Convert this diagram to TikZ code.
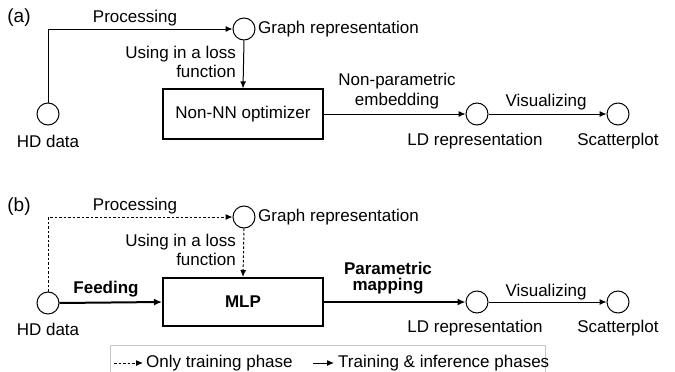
\documentclass[tikz,border=0pt]{standalone}
\usepackage{fontspec}
\setmainfont{Liberation Sans}
\usetikzlibrary{arrows.meta}
\begin{document}
\begin{tikzpicture}[x=1pt,y=-1pt,
  every node/.style={font=\fontsize{17}{19.5}\selectfont, inner sep=0pt},
  panel/.style={font=\fontsize{19}{21}\selectfont},
  circ/.style={draw, circle, minimum size=22pt, line width=1pt},
  boxa/.style={draw, line width=1.2pt, minimum width=160pt, minimum height=50pt},
  boxb/.style={draw, line width=2pt, minimum width=160pt, minimum height=48pt, font=\fontsize{17}{19.5}\selectfont\bfseries},
  arr/.style={line width=1pt, -{Latex[length=7pt,width=6pt]}},
  tarr/.style={line width=2pt, -{Latex[length=8pt,width=7pt]}},
  darr/.style={line width=1pt, dash pattern=on 2.5pt off 2pt, -{Latex[length=7pt,width=6pt]}},
  lbl/.style={align=center}
]
\useasboundingbox (0,0) rectangle (675,372);

% ---------- (a)
\node[panel] (la) at (19,18) {(a)};
\node[circ] (hda) at (48,114) {};
\node (hdat) at (48,141) {HD data};
\node[circ] (gra) at (244,29) {};
\node[anchor=west] (grat) at (258,29) {Graph representation};
\node[boxa] (opt) at (243,114) {Non-NN optimizer};
\node[circ] (lda) at (477,114) {};
\node (ldat) at (475,141) {LD representation};
\node[circ] (sca) at (618,114) {};
\node (scat) at (618,141) {Scatterplot};

\draw[arr] (hda.north) |- (gra.west);
\draw[arr] (gra.south) -- (opt.north);
\draw[arr] (opt.east) -- (lda.west);
\draw[arr] (lda.east) -- (sca.west);

\node (pa) at (135,18) {Processing};
\node[align=right, anchor=east] (ua) at (236,62) {Using in a loss\\function};
\node[lbl] (npa) at (397,91) {Non-parametric\\embedding};
\node (va) at (546,102) {Visualizing};

% ---------- (b)
\node[panel] (lb) at (19,207) {(b)};
\node[circ] (hdb) at (48,303) {};
\node (hdbt) at (48,329) {HD data};
\node[circ] (grb) at (244,217) {};
\node[anchor=west] (grbt) at (258,217) {Graph representation};
\node[boxb] (mlp) at (243,302) {MLP};
\node[circ] (ldb) at (477,302) {};
\node (ldbt) at (475,328) {LD representation};
\node[circ] (scb) at (618,302) {};
\node (scbt) at (618,328) {Scatterplot};

\draw[darr] (hdb.north) |- (grb.west);
\draw[darr] (grb.south) -- (mlp.north);
\draw[tarr] (hdb.east) -- (mlp.west);
\draw[tarr] (mlp.east) -- (ldb.west);
\draw[arr] (ldb.east) -- (scb.west);

\node (pb) at (135,206) {Processing};
\node[align=right, anchor=east] (ub) at (236,250) {Using in a loss\\function};
\node[font=\fontsize{17}{19.5}\selectfont\bfseries] (fb) at (106,289) {Feeding};
\node[lbl, font=\fontsize{17}{15.5}\selectfont\bfseries] (pmb) at (388,278) {Parametric\\mapping};
\node (vb) at (546,292) {Visualizing};

% ---------- legend
\draw[draw=black!22, line width=1pt] (110,345) rectangle (545,380);
\coordinate (d1) at (114,363);
\coordinate (d2) at (143,363);
\draw[darr] (d1) -- (d2);
\node[anchor=west] (dt) at (146,363) {Only training phase};
\coordinate (s1) at (313,363);
\coordinate (s2) at (334,363);
\draw[arr] (s1) -- (s2);
\node[anchor=west] (st) at (338,363) {Training \& inference phases};
\end{tikzpicture}
\end{document}
